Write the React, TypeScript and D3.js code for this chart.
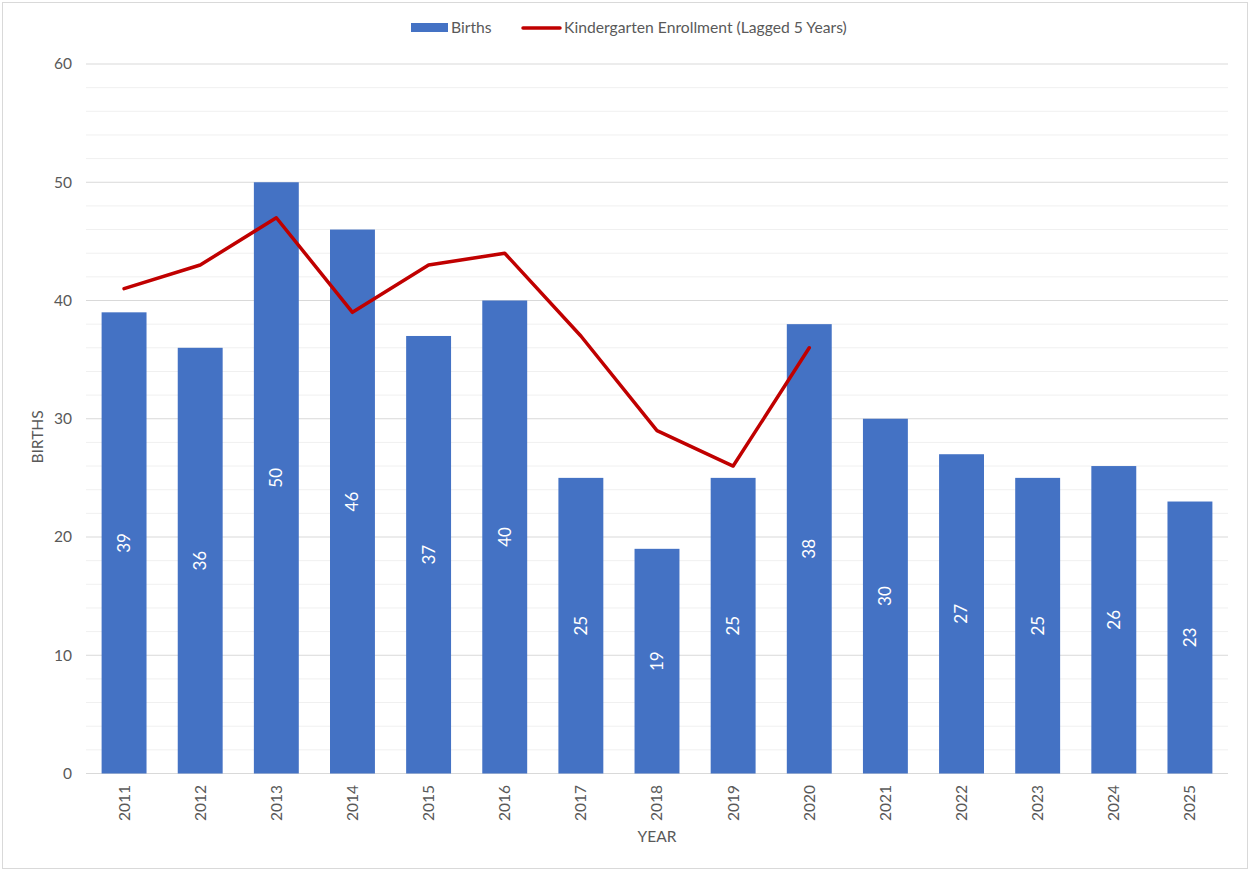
import React from "react";
import * as d3 from "d3";

const years = ["2011","2012","2013","2014","2015","2016","2017","2018","2019","2020","2021","2022","2023","2024","2025"];
const births = [39,36,50,46,37,40,25,19,25,38,30,27,25,26,23];
const enrollYears = ["2011","2012","2013","2014","2015","2016","2017","2018","2019","2020"];
const enrollment = [41,43,47,39,43,44,37,29,26,36];
const yTicks = [0,10,20,30,40,50,60];

const W = 1250, H = 871;
const left = 86, right = 1228, top = 64, bottom = 773.5;
const font = "Lato, 'Open Sans', sans-serif";

export default function App() {
  const x = d3.scaleBand<string>().domain(years).range([left, right]).paddingInner(0.41).paddingOuter(0.205);
  const y = d3.scaleLinear().domain([0, 60]).range([bottom, top]);
  const minor = d3.range(0, 61, 2).filter(v => v % 10 !== 0);
  const line = d3.line<number>()
    .x((_, i) => (x(enrollYears[i]) as number) + x.bandwidth() / 2)
    .y(d => y(d));
  return (
    <svg width={W} height={H} style={{ position: "absolute", left: 0, top: 0, background: "#fff" }} fontFamily={font}>
      <rect x={2.5} y={2.5} width={W - 5} height={H - 5} fill="#fff" stroke="#d9d9d9" />
      {minor.map(v => (
        <line key={"m" + v} x1={left} x2={right} y1={y(v)} y2={y(v)} stroke="#f0f0f0" strokeWidth={1} />
      ))}
      {yTicks.map(v => (
        <g key={v}>
          <line x1={left} x2={right} y1={y(v)} y2={y(v)} stroke="#d9d9d9" strokeWidth={1} />
          <text x={72} y={y(v)} dy="0.35em" textAnchor="end" fontSize={15.5} fill="#595959">{v}</text>
        </g>
      ))}
      {births.map((b, i) => {
        const bx = x(years[i]) as number;
        const cx = bx + x.bandwidth() / 2;
        const cy = (y(b) + y(0)) / 2;
        return (
          <g key={years[i]}>
            <rect x={bx} y={y(b)} width={x.bandwidth()} height={y(0) - y(b)} fill="#4472C4" />
            <text transform={`translate(${cx},${cy}) rotate(-90)`} textAnchor="middle" dy="0.35em" fontSize={17} fill="#fff">{b}</text>
            <text transform={`translate(${cx},${785}) rotate(-90)`} textAnchor="end" dy="0.35em" fontSize={15.5} fill="#595959">{years[i]}</text>
          </g>
        );
      })}
      <path d={line(enrollment) || ""} fill="none" stroke="#C00000" strokeWidth={3.5} strokeLinejoin="round" strokeLinecap="round" />
      <text x={657} y={842} textAnchor="middle" fontSize={15.5} fill="#595959">YEAR</text>
      <text transform={`translate(38,437) rotate(-90)`} textAnchor="middle" dy="0.35em" fontSize={15.5} fill="#595959">BIRTHS</text>
      <rect x={411} y={23} width={37} height={9} fill="#4472C4" />
      <text x={451} y={28} dy="0.35em" fontSize={15.7} fill="#595959">Births</text>
      <line x1={523} x2={560} y1={28} y2={28} stroke="#C00000" strokeWidth={3.5} strokeLinecap="round" />
      <text x={564} y={28} dy="0.35em" fontSize={15.7} fill="#595959">Kindergarten Enrollment (Lagged 5 Years)</text>
    </svg>
  );
}
